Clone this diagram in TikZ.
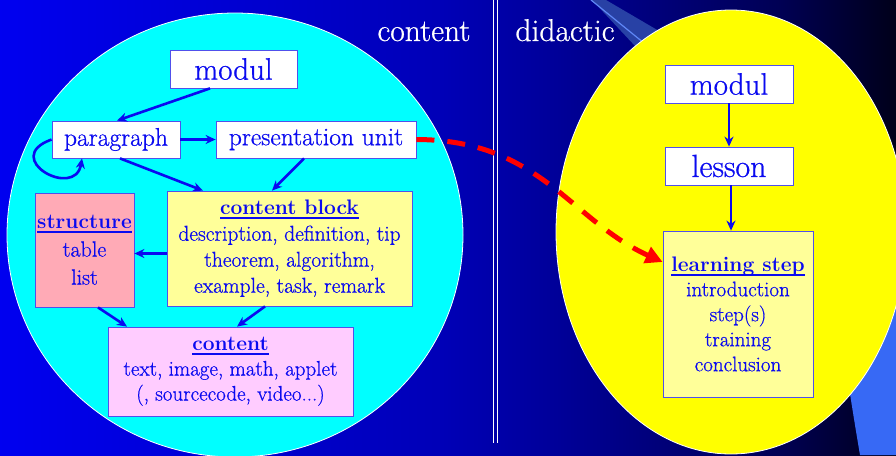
\documentclass[tikz,border=0pt]{standalone}
\usepackage{fontspec}
\setmainfont{Latin Modern Roman}[UprightFeatures={FakeBold=0.7}]
\usetikzlibrary{arrows.meta, positioning}

\definecolor{txtblue}{RGB}{10,10,240}
\definecolor{boxline}{RGB}{80,80,235}
\definecolor{circcyan}{RGB}{0,255,255}
\definecolor{ovalyellow}{RGB}{255,255,0}
\definecolor{blockyellow}{RGB}{255,255,153}
\definecolor{structpink}{RGB}{255,170,182}
\definecolor{contentpink}{RGB}{255,204,255}
\definecolor{stripeblue}{RGB}{55,105,245}
\definecolor{wedgeblue}{RGB}{40,65,165}
\definecolor{dashred}{RGB}{255,0,0}
\pgfdeclarehorizontalshading{slidebg}{100bp}{rgb(0bp)=(0,0,.94); rgb(25bp)=(0,0,.94); rgb(49.5bp)=(0,0,.72); rgb(56bp)=(0,0,.6); rgb(68.5bp)=(0,0,.33); rgb(75bp)=(0,0,.1); rgb(100bp)=(0,0,.1)}

\newcommand{\boxtitle}[1]{{\fontsize{21}{27}\selectfont\bfseries\setbox0\hbox{#1}\rlap{\rule[-4.5pt]{\wd0}{2.2pt}}\box0}}

\tikzset{
  box/.style={draw=boxline, line width=0.8pt, fill=white, text=txtblue, inner sep=0pt, align=center, font=\fontsize{21.5}{26}\selectfont},
  link/.style={draw=txtblue, line width=2.6pt, arrows=-{Stealth[length=10pt,width=9pt]}},
  head/.style={font=\fontsize{31.5}{34}\selectfont, text=white, anchor=base},
}

\begin{document}
\begin{tikzpicture}[x=1pt, y=-1pt]
  \useasboundingbox (0,0) rectangle (896,455);
  \shade[shading=slidebg] (0,0) rectangle (896,455);
  \fill[wedgeblue] (592,0) -- (606,0) -- (700,55) -- (650,62) -- cycle;
  \draw[stripeblue!80!white, line width=1.2pt] (591,0) -- (655,52);
  \fill[stripeblue] (836,300) .. controls (846,370) and (854,420) .. (860,455) -- (896,455) -- (896,300) -- cycle;

  \draw[white, line width=0.8pt, fill=circcyan] (235,235) ellipse [x radius=228pt, y radius=222pt];
  \draw[white, line width=0.8pt, fill=ovalyellow] (731,232) ellipse [x radius=175pt, y radius=222pt];
  \draw[white, line width=1pt] (493,0) -- (493,443);
  \draw[white, line width=1pt] (497,0) -- (497,443);

  \node[head] (hcontent) at (424,41) {content};
  \node[head] (hdidactic) at (565,41) {didactic};

  \node[box, minimum width=127pt, minimum height=38pt, font=\fontsize{31}{34}\selectfont] (modulL) at (233.5,69) {modul};
  \node[box, minimum width=128pt, minimum height=37pt, font=\fontsize{25.5}{28}\selectfont] (para) at (116,139.5) {paragraph};
  \node[box, minimum width=200pt, minimum height=37pt, font=\fontsize{25.5}{28}\selectfont] (presu) at (316,139.5) {presentation unit};
  \node[box, fill=blockyellow, minimum width=245pt, minimum height=115pt] (cblock) at (289.5,248.5)
    {\boxtitle{content block}\\ description, definition, tip\\ theorem, algorithm,\\ example, task, remark};
  \node[box, fill=structpink, minimum width=99pt, minimum height=114pt, font=\fontsize{22}{28}\selectfont] (struct) at (84.5,250)
    {\boxtitle{structure}\\ table\\ list};
  \node[box, fill=contentpink, minimum width=245pt, minimum height=89pt, font=\fontsize{21}{25}\selectfont] (cont) at (230.5,371.5)
    {\boxtitle{content}\\ text, image, math, applet\\ (, sourcecode, video...)};

  \node[box, minimum width=128pt, minimum height=38pt, font=\fontsize{31}{34}\selectfont] (modulR) at (729,84) {modul};
  \node[box, minimum width=128pt, minimum height=38pt, font=\fontsize{32}{34}\selectfont] (lesson) at (729,166) {lesson};
  \node[box, fill=blockyellow, minimum width=150pt, minimum height=166pt, font=\fontsize{21}{25}\selectfont] (lstep) at (738,314)
    {\boxtitle{learning step}\\ introduction\\ step(s)\\ training\\ conclusion};

  \draw[link] ([xshift=-23.5pt]modulL.south) -- ([xshift=1pt]para.north);
  \draw[link] (para.east) -- (presu.west);
  \draw[link] (para.west) .. controls (0,158) and (75,200) .. ([xshift=-34pt]para.south);
  \draw[link] ([xshift=4pt]para.south) -- ([xshift=-86.5pt]cblock.north);
  \draw[link] ([xshift=-12pt]presu.south) -- ([xshift=-17.5pt]cblock.north);
  \draw[link] ([yshift=-5pt]cblock.west) -- ([yshift=-5pt]cblock.west -| struct.east);
  \draw[link] ([xshift=13.5pt]struct.south) -- ([xshift=-103.5pt]cont.north);
  \draw[link] ([xshift=-24.5pt]cblock.south) -- ([xshift=6.5pt]cont.north);
  \draw[link] (modulR) -- (lesson);
  \draw[link] ([xshift=2pt]lesson.south) -- ([xshift=2pt]lesson.south |- lstep.north);

  \draw[dashred, line width=5pt, dash pattern=on 18pt off 13pt, arrows=-{Triangle[length=17pt,width=17pt]}]
    (presu.east) .. controls (540,140) and (570,220) .. ([yshift=52pt]lstep.west);
\end{tikzpicture}
\end{document}
